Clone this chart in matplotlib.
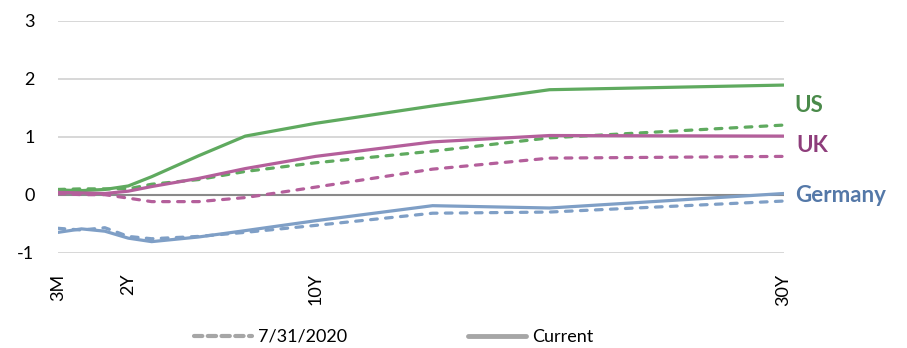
import matplotlib.pyplot as plt
from matplotlib.lines import Line2D

plt.rcParams["font.family"] = ["Lato", "DejaVu Sans"]

# full category axis: 3M, 6M, 1Y ... 30Y
categories = ["3M", "6M"] + [f"{n}Y" for n in range(1, 31)]
shown_ticks = ["3M", "2Y", "10Y", "30Y"]

maturities = ["3M", "6M", "1Y", "2Y", "3Y", "5Y", "7Y", "10Y", "15Y", "20Y", "30Y"]

us_current = [0.08, 0.07, 0.09, 0.15, 0.31, 0.67, 1.01, 1.23, 1.53, 1.81, 1.89]
us_prior = [0.09, 0.10, 0.10, 0.10, 0.18, 0.26, 0.40, 0.55, 0.75, 0.98, 1.20]
uk_current = [0.04, 0.03, 0.02, 0.06, 0.14, 0.28, 0.45, 0.66, 0.91, 1.02, 1.01]
uk_prior = [0.02, 0.00, 0.00, -0.06, -0.12, -0.12, -0.05, 0.13, 0.44, 0.63, 0.66]
de_current = [-0.65, -0.59, -0.63, -0.75, -0.81, -0.73, -0.62, -0.45, -0.19, -0.23, 0.02]
de_prior = [-0.58, -0.61, -0.57, -0.72, -0.76, -0.72, -0.65, -0.53, -0.32, -0.30, -0.11]

series = [
    ("US", us_current, us_prior, "#5faa5f"),
    ("UK", uk_current, uk_prior, "#b45f9b"),
    ("Germany", de_current, de_prior, "#7f9fc6"),
]

fig = plt.figure(figsize=(9.07, 3.48), dpi=100)
ax = fig.add_axes([0.064, 0.274, 0.8, 0.6665])

xs = [categories.index(m) for m in maturities]

ax.set_ylim(-1, 3)
ax.set_xlim(0, len(categories) - 1)
ax.set_yticks([-1, 0, 1, 2, 3])
ax.set_yticklabels(["-1", "0", "1", "2", "3"])
for v in [-1, 1, 2, 3]:
    ax.axhline(v, color="#d4d4d4", lw=1.3, zorder=1)
ax.axhline(0, color="#8a8a8a", lw=1.5, zorder=2)

for name, cur, prior, col in series:
    ax.plot(xs, prior, color=col, lw=2.3, ls=(0, (2.1, 2.6)),
            solid_capstyle="round", dash_capstyle="round", zorder=3)
    ax.plot(xs, cur, color=col, lw=2.3, solid_capstyle="round", zorder=4)

# series names to the right of the curves
ax.text(31.45, 1.53, "US", color="#4a8a4a", fontsize=16, fontweight="bold",
        va="center", ha="left", clip_on=False)
ax.text(31.55, 0.84, "UK", color="#8e3d7b", fontsize=16, fontweight="bold",
        va="center", ha="left", clip_on=False)
ax.text(31.5, -0.02, "Germany", color="#5478a8", fontsize=16, fontweight="bold",
        va="center", ha="left", clip_on=False)

ax.set_xticks([categories.index(t) for t in shown_ticks])
ax.set_xticklabels(shown_ticks, rotation=90, fontsize=13)
ax.tick_params(axis="x", length=0, pad=15)
ax.tick_params(axis="y", length=0, pad=17, labelsize=13)
for s in ax.spines.values():
    s.set_visible(False)

handles = [
    Line2D([], [], color="#a6a6a6", lw=3, ls=(0, (2.0, 1.3)), dash_capstyle="round"),
    Line2D([], [], color="#a6a6a6", lw=3.5, solid_capstyle="round"),
]
fig.legend(handles, ["7/31/2020", "Current"], loc="center left",
           bbox_to_anchor=(0.214, 0.032), ncol=2, frameon=False, fontsize=13,
           handlelength=3.2, handletextpad=0.35, columnspacing=6.7, borderpad=0,
           borderaxespad=0)

fig.savefig("out.png", dpi=100)
